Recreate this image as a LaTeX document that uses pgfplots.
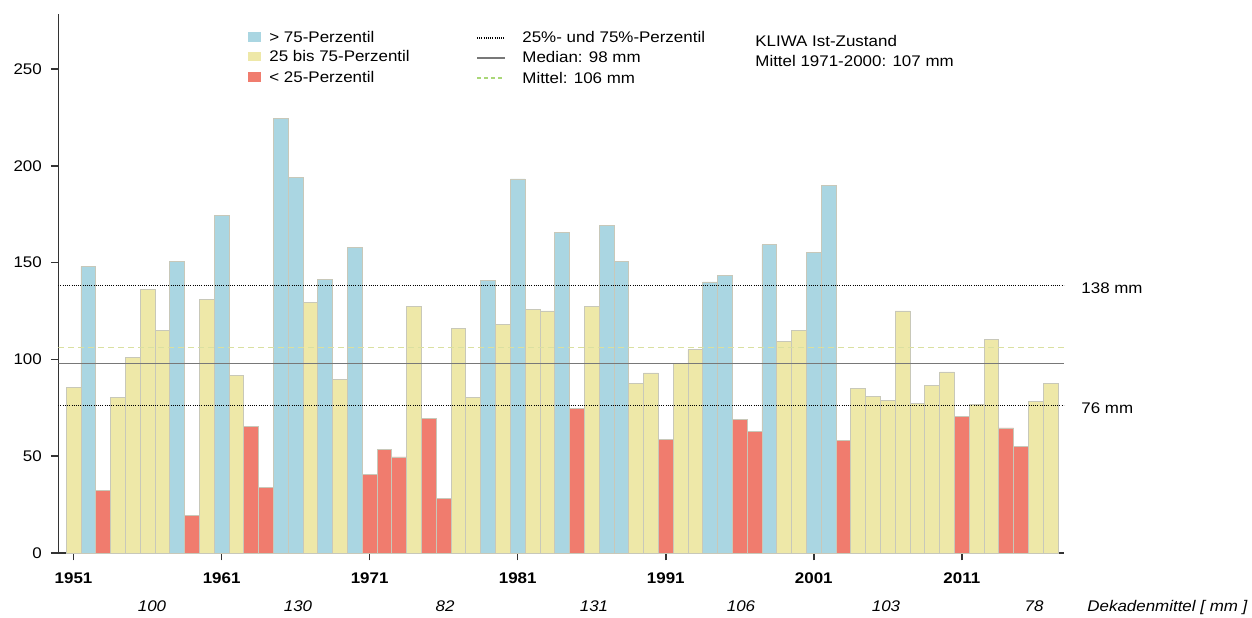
\documentclass[border=0pt]{standalone}
\usepackage{pgfplots}
\pgfplotsset{compat=1.18}
\usepackage{fontspec}
\setmainfont[FakeStretch=1.1]{Liberation Sans}
\definecolor{cblue}{RGB}{170,214,226}
\definecolor{cyellow}{RGB}{238,232,168}
\definecolor{cred}{RGB}{240,124,110}
\definecolor{barline}{RGB}{200,200,185}
\definecolor{medgray}{RGB}{120,120,120}
\definecolor{mittel}{RGB}{218,224,160}
\definecolor{mittelleg}{RGB}{170,215,120}
\newcommand{\tfont}{\fontsize{7.7}{9}\selectfont}
\begin{document}
\begin{tikzpicture}
\useasboundingbox (-29.15pt,-32pt) rectangle (596.85pt,276.5pt);
\begin{axis}[
  at={(0pt,0pt)}, anchor=south west,
  scale only axis, width=502.85pt, height=269.5pt,
  xmin=1949.97, xmax=2017.9, ymin=0, ymax=278.4,
  axis x line*=bottom, axis y line*=left,
  axis line style={line width=0.75pt, black!80},
  xtick={1951,1961,...,2011}, ytick={0,50,...,250},
  minor tick num=0,
  tick align=outside, major tick length=3.7pt,
  tick style={line width=0.75pt, black!80},
  /pgf/number format/set thousands separator={},
  /pgf/number format/assume math mode=true,
  xticklabel style={font=\tfont\bfseries, yshift=-2.5pt},
  yticklabel style={font=\tfont, xshift=-1pt},
]
\addplot[ybar, bar width=1, bar shift=0pt, fill=cblue, draw=barline, line width=0.4pt] coordinates {
(1952,148) (1958,150.5) (1961,174.4) (1965,224.3) (1966,194.2) (1968,141.5) (1970,157.9)
(1979,140.6) (1981,193.2) (1984,165.8) (1987,169.2) (1988,150.5) (1994,140) (1995,143.4)
(1998,159.2) (2001,155.1) (2002,189.9)};
\addplot[ybar, bar width=1, bar shift=0pt, fill=cyellow, draw=barline, line width=0.4pt] coordinates {
(1951,85.7) (1954,80.2) (1955,100.9) (1956,136) (1957,114.8) (1960,130.8) (1962,91.7)
(1967,129.4) (1969,89.5) (1974,127.4) (1977,116) (1978,80.4) (1980,118.1) (1982,126)
(1983,125) (1986,127.4) (1989,87.6) (1990,93) (1992,97.8) (1993,105.2) (1999,109.3)
(2000,114.8) (2004,85) (2005,80.9) (2006,79) (2007,125) (2008,77.1) (2009,86.4)
(2010,93.5) (2012,76.6) (2013,110.2) (2016,78.5) (2017,87.6)};
\addplot[ybar, bar width=1, bar shift=0pt, fill=cred, draw=barline, line width=0.4pt] coordinates {
(1953,32.3) (1959,19.6) (1963,65.4) (1964,33.9) (1971,40.4) (1972,53.7) (1973,49.6)
(1975,69.5) (1976,28.4) (1985,74.7) (1991,58.5) (1996,69.2) (1997,62.8) (2003,58.2)
(2011,70.6) (2014,64.6) (2015,54.9)};
\addplot[mittel, line width=0.6pt, dash pattern=on 3pt off 2pt] coordinates {(1949.97,106) (2017.9,106)};
\addplot[medgray, line width=0.7pt] coordinates {(1949.97,98) (2017.9,98)};
\addplot[black, line width=0.6pt, dash pattern=on 0.5pt off 0.6pt] coordinates {(1949.97,138) (2017.9,138)};
\addplot[black, line width=0.6pt, dash pattern=on 0.5pt off 0.6pt] coordinates {(1949.97,76) (2017.9,76)};
\end{axis}
\begin{scope}[x=0.5pt,y=-0.5pt,shift={(-29.15pt,276.5pt)}]
\fill[cblue] (248,32) rectangle (261,42);
\fill[cyellow] (248,52) rectangle (261,61.5);
\fill[cred] (248,72) rectangle (261,81.5);
\node[anchor=base west, inner sep=0pt, font=\tfont] at (269,43) {> 75-Perzentil};
\node[anchor=base west, inner sep=0pt, font=\tfont] at (269,62) {25 bis 75-Perzentil};
\node[anchor=base west, inner sep=0pt, font=\tfont] at (269,82) {< 25-Perzentil};
\draw[black, line width=0.6pt, dash pattern=on 0.5pt off 0.6pt] (477,38) -- (505,38);
\draw[medgray, line width=0.7pt] (477,58) -- (505,58);
\draw[mittelleg, line width=0.6pt, dash pattern=on 2pt off 1.5pt] (477,78) -- (505,78);
\node[anchor=base west, inner sep=0pt, font=\tfont] at (522,43) {25\%- und 75\%-Perzentil};
\node[anchor=base west, inner sep=0pt, font=\tfont] at (522,63) {Median: 98 mm};
\node[anchor=base west, inner sep=0pt, font=\tfont] at (522,83) {Mittel: 106 mm};
\node[anchor=base west, inner sep=0pt, font=\tfont] at (755,47) {KLIWA Ist-Zustand};
\node[anchor=base west, inner sep=0pt, font=\tfont] at (755,66) {Mittel 1971-2000: 107 mm};
\node[anchor=base west, inner sep=0pt, font=\tfont] at (1081,293) {138 mm};
\node[anchor=base west, inner sep=0pt, font=\tfont] at (1081,413) {76 mm};
\foreach \xx/\vv in {152/100, 298/130, 445/82, 594/131, 741/106, 886/103, 1034/78}
  \node[anchor=base, inner sep=0pt, font=\tfont\itshape] at (\xx,611) {\vv};
\node[anchor=base west, inner sep=0pt, font=\tfont\itshape] at (1087,611) {Dekadenmittel [ mm ]};
\end{scope}
\end{tikzpicture}
\end{document}
